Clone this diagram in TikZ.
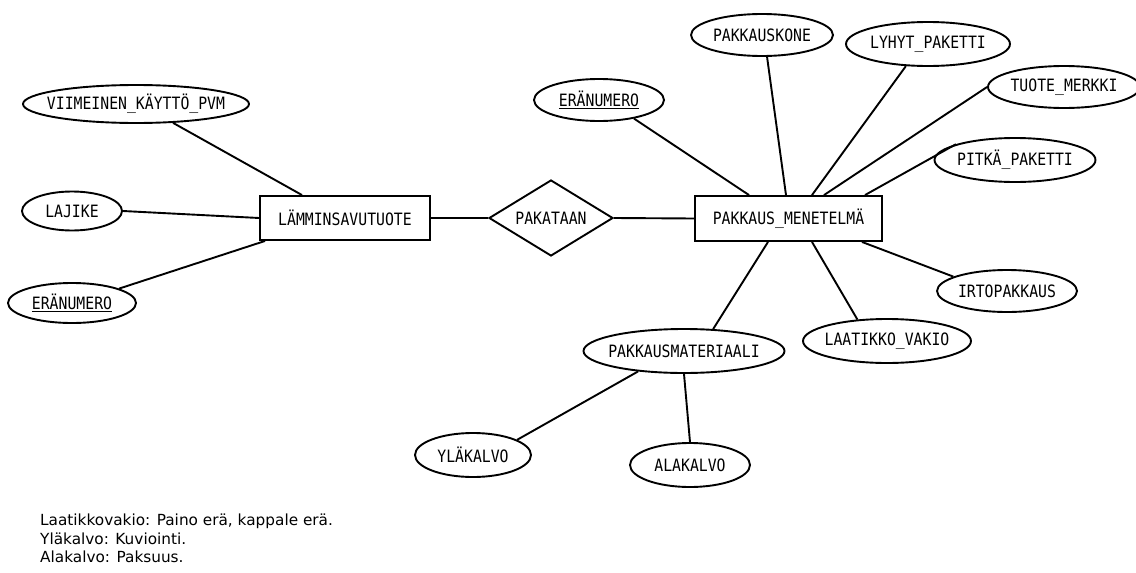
\documentclass[tikz,border=0pt]{standalone}
\usepackage{fontspec}
\setmainfont{DejaVu Sans}
\newfontfamily\ermono[FakeStretch=0.87]{DejaVu Sans Mono}
\usetikzlibrary{shapes.geometric}
% label text that does not widen its shape
\newcommand\lbl[1]{\makebox[0pt]{#1}}
% underlined key attribute
\newcommand\keylbl[1]{\makebox[0pt]{\vtop{\hbox{#1}\kern1.5pt\hrule height 1.6pt}}}
\begin{document}
\begin{tikzpicture}[x=1pt,y=-1pt,
  er/.style={draw, line width=1.9pt, inner sep=0pt, font=\ermono\fontsize{17}{18}\selectfont},
  attr/.style={er, ellipse},
  entity/.style={er, rectangle},
  rel/.style={er, diamond},
  link/.style={line width=1.9pt}]
\fill[white] (0,0) rectangle (1136,573);
\useasboundingbox (0,0) rectangle (1136,573);
\clip (0,0) rectangle (1136,573);

% entities and relationship
\node[entity, minimum width=170pt, minimum height=44pt] (lam) at (345,218) {LÄMMINSAVUTUOTE};
\node[rel, minimum width=124pt, minimum height=76pt] (pak) at (551,218) {\lbl{PAKATAAN}};
\node[entity, minimum width=187pt, minimum height=45pt] (pm) at (788.5,218.5) {PAKKAUS\_MENETELMÄ};

% attributes of LÄMMINSAVUTUOTE
\node[attr, minimum width=226pt, minimum height=38pt] (vkp) at (136,104) {\lbl{VIIMEINEN\_KÄYTTÖ\_PVM}};
\node[attr, minimum width=100pt, minimum height=39pt] (laj) at (72,211) {\lbl{LAJIKE}};
\node[attr, minimum width=128pt, minimum height=40pt] (ern1) at (72,303) {\keylbl{ERÄNUMERO}};

% attributes of PAKKAUS_MENETELMÄ
\node[attr, minimum width=130pt, minimum height=42pt] (ern2) at (599,100) {\keylbl{ERÄNUMERO}};
\node[attr, minimum width=142pt, minimum height=42pt] (pkone) at (762,35) {\lbl{PAKKAUSKONE}};
\node[attr, minimum width=164pt, minimum height=44pt] (lyhyt) at (928,44) {\lbl{LYHYT\_PAKETTI}};
\node[attr, minimum width=152pt, minimum height=42pt] (tuote) at (1064,87) {\lbl{TUOTE\_MERKKI}};
\node[attr, minimum width=161pt, minimum height=44pt] (pitka) at (1015,160) {\lbl{PITKÄ\_PAKETTI}};
\node[attr, minimum width=140pt, minimum height=42pt] (irto) at (1007,291) {\lbl{IRTOPAKKAUS}};
\node[attr, minimum width=168pt, minimum height=44pt] (laat) at (887,341) {\lbl{LAATIKKO\_VAKIO}};
\node[attr, minimum width=201pt, minimum height=44pt] (pmat) at (684,351) {\lbl{PAKKAUSMATERIAALI}};

% attributes of PAKKAUSMATERIAALI
\node[attr, minimum width=116pt, minimum height=44pt] (yla) at (473,455) {\lbl{YLÄKALVO}};
\node[attr, minimum width=120pt, minimum height=44pt] (ala) at (690,465) {\lbl{ALAKALVO}};

% connectors
\draw[link] (vkp.-27) -- ([xshift=-43pt]lam.north);
\draw[link] (laj.east) -- (lam.west);
\draw[link] (ern1.17) -- ([xshift=6pt]lam.south west);
\draw[link] (lam.east) -- (pak.west);
\draw[link] (pak.east) -- (pm.west);

\draw[link] (ern2.-28) -- ([xshift=-39.5pt]pm.north);
\draw[link] (pkone.-77) -- ([xshift=-2.5pt]pm.north);
\draw[link] (lyhyt.-135) -- ([xshift=23.5pt]pm.north);
\draw[link] (tuote.west) -- ([xshift=35.5pt]pm.north);
\draw[link] (pitka.165) -- ([xshift=76.5pt]pm.north);
\draw[link] (irto.165) -- ([xshift=73.5pt]pm.south);
\draw[link] (laat.144) -- ([xshift=23.5pt]pm.south);
\draw[link] (pmat.37) -- ([xshift=-20.5pt]pm.south);

\draw[link] (pmat.-156) -- (yla.19);
\draw[link] (pmat.south) -- (ala.north);

% notes
\node[anchor=north west, align=left, inner sep=0pt, font=\fontsize{15.3}{18.5}\selectfont] (notes) at (40,514)
  {Laatikkovakio: Paino erä, kappale erä.\\Yläkalvo: Kuviointi.\\Alakalvo: Paksuus.};
\end{tikzpicture}
\end{document}
